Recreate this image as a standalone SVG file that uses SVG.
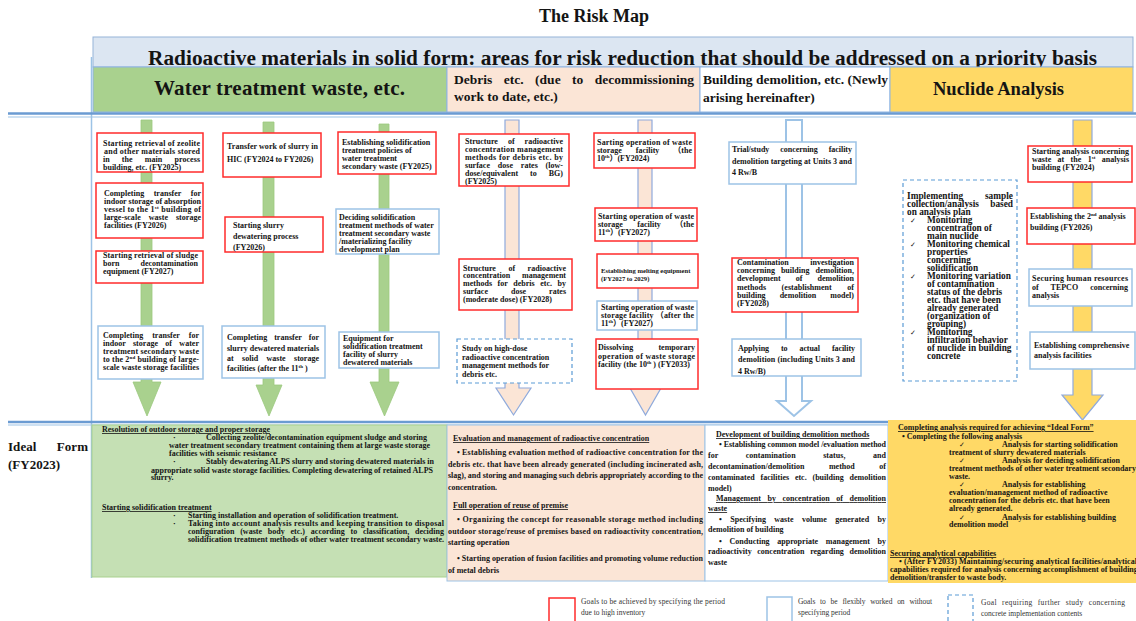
<svg xmlns="http://www.w3.org/2000/svg" width="1136" height="621" viewBox="0 0 1136 621">
<style>
text{font-family:"Liberation Serif","Times New Roman","Noto Sans CJK JP",serif;fill:#141414;font-weight:bold}
.t{font-size:8px}
.v{font-size:9.3px}
.s{font-size:5px}
.lg{font-size:7.5px;font-weight:normal;fill:#333}
.u{text-decoration:underline}
.r{fill:#fff;stroke:#ff2b2b;stroke-width:1.5}
.b{fill:#fff;stroke:#9dc3e6;stroke-width:1.5}
.d{fill:#fff;stroke:#5b9bd5;stroke-width:1.2;stroke-dasharray:4 3}
.ck{font-family:"DejaVu Sans",sans-serif;font-weight:normal;font-size:7px}
.ag{fill:#a9d18e;stroke:#9cc97f;stroke-width:0.8}
.ap{fill:#fbe5d6;stroke:#8faadc;stroke-width:1.2}
.aw{fill:#fff;stroke:#9dc3e6;stroke-width:2}
.ay{fill:#ffd966;stroke:#8faadc;stroke-width:1.2}
.sep{stroke:#6b9bd2;stroke-width:2.5}
.sep2{stroke:#9dc3e6;stroke-width:1}
</style>
<rect width="1136" height="621" fill="#fff"/>

<g id="title"><text x="594" y="22" text-anchor="middle" font-size="18">The Risk Map</text></g>

<g id="header">
<rect x="93" y="37" width="1040" height="30" fill="#dce6f2" stroke="#95b3d7"/>
<text x="148" y="65" font-size="21.3" textLength="949">Radioactive materials in solid form: areas for risk reduction that should be addressed on a priority basis</text>
</g>
<g id="col-water"><rect x="93" y="67" width="354" height="45" fill="#a9d18e" stroke="#8eb4e3"/><text x="154" y="95" font-size="21" textLength="251">Water treatment waste, etc.</text></g>
<g id="col-debris"><rect x="447" y="67" width="253" height="45" fill="#fbe5d6" stroke="#8eb4e3"/><text x="454" y="84" font-size="13.5" word-spacing="8" textLength="240">Debris etc. (due to decommissioning</text><text x="454" y="101" font-size="13.5">work to date, etc.)</text></g>
<g id="col-building"><rect x="700" y="67" width="190" height="45" fill="#fff" stroke="#8eb4e3"/><text x="703" y="84" font-size="13.5" textLength="185">Building demolition, etc. (Newly</text><text x="703" y="102" font-size="13.5">arising hereinafter)</text></g>
<g id="col-nuclide"><rect x="890" y="67" width="243" height="45" fill="#ffd966" stroke="#8eb4e3"/><text x="933" y="95" font-size="18.5">Nuclide Analysis</text></g>

<g id="frame">
<line x1="91.5" y1="57" x2="91.5" y2="578" stroke="#9dc3e6" stroke-width="1.5"/>
<line class="sep" x1="8" y1="113.5" x2="1136" y2="113.5"/>
<line class="sep2" x1="8" y1="117" x2="1136" y2="117"/>
<line class="sep" x1="8" y1="422" x2="1136" y2="422"/>
<line class="sep2" x1="8" y1="425" x2="1136" y2="425"/>
</g>

<g id="connectors">
<path class="ag" d="M141,120H152V382H161L147,416L133,382H141Z"/>
<path class="ag" d="M263,122H274V385H282L269,416L256,385H263Z"/>
<path class="ag" d="M379,124H389V382H399L384.5,416L370,382H379Z"/>
<path class="ap" d="M505,120H519V388H531L513.5,415L496,388H505Z"/>
<path class="ap" d="M638,120H652V388H661L645.5,415L630,388H638Z"/>
<path class="aw" d="M786,120H802V401H811L794,416L777,401H786Z"/>
<path class="ay" d="M1073,120H1092V395H1103L1082.5,420L1062,395H1073Z"/>
</g>

<g id="node-a"><rect class="r" x="97" y="133" width="106" height="39"/>
<text class="t" x="103" y="146" textLength="97">Starting retrieval of zeolite</text>
<text class="t" x="104" y="154" textLength="96">and other materials stored</text>
<text class="t" x="103" y="162" word-spacing="10" textLength="97">in the main process</text>
<text class="t" x="103" y="170">building, etc. (FY2025)</text></g>

<g id="node-b"><rect class="r" x="96" y="183" width="107" height="55"/>
<text class="t" x="104" y="196" word-spacing="7.5" textLength="97">Completing transfer for</text>
<text class="t" x="104" y="204" textLength="97">indoor storage of absorption</text>
<text class="t" x="104" y="212" textLength="97">vessel to the 1<tspan class="s" dy="-3">st</tspan><tspan dy="3"> building of</tspan></text>
<text class="t" x="104" y="220" word-spacing="6" textLength="97">large-scale waste storage</text>
<text class="t" x="104" y="228">facilities (FY2026)</text></g>

<g id="node-c"><rect class="r" x="96" y="251" width="107" height="32"/>
<text class="t" x="103" y="258" textLength="95">Starting retrieval of sludge</text>
<text class="t" x="103" y="266" word-spacing="19" textLength="95">born decontamination</text>
<text class="t" x="103" y="274">equipment (FY2027)</text></g>

<g id="node-d"><rect class="b" x="98" y="326" width="105" height="53"/>
<text class="t" x="103" y="338" word-spacing="7" textLength="96">Completing transfer for</text>
<text class="t" x="103" y="346" word-spacing="5.3" textLength="96">indoor storage of water</text>
<text class="t" x="103" y="354" textLength="96">treatment secondary waste</text>
<text class="t" x="103" y="362" textLength="96">to the 2<tspan class="s" dy="-3">nd</tspan><tspan dy="3"> building of large-</tspan></text>
<text class="t" x="103" y="370" textLength="96">scale waste storage facilities</text></g>

<g id="node-e"><rect class="r" x="223" y="133" width="98" height="44"/>
<text class="t" x="227" y="149" textLength="91">Transfer work of slurry in</text>
<text class="t" x="227" y="162">HIC (FY2024 to FY2026)</text></g>

<g id="node-f"><rect class="r" x="225" y="217" width="98" height="35"/>
<text class="t" x="233" y="228">Starting slurry</text>
<text class="t" x="233" y="239">dewatering process</text>
<text class="t" x="233" y="250">(FY2026)</text></g>

<g id="node-g"><rect class="b" x="222" y="326" width="103" height="52"/>
<text class="t" x="227" y="340" word-spacing="5" textLength="92">Completing transfer for</text>
<text class="t" x="227" y="350.5" textLength="92">slurry dewatered materials</text>
<text class="t" x="227" y="361" word-spacing="6.3" textLength="92">at solid waste storage</text>
<text class="t" x="227" y="371">facilities (after the 11<tspan class="s" dy="-3">th</tspan><tspan dy="3"> )</tspan></text></g>

<g id="node-h"><rect class="r" x="338" y="132" width="98" height="42"/>
<text class="t" x="342" y="145">Establishing solidification</text>
<text class="t" x="342" y="153">treatment policies of</text>
<text class="t" x="342" y="161">water treatment</text>
<text class="t" x="342" y="169">secondary waste (FY2025)</text></g>

<g id="node-i"><rect class="b" x="336" y="209" width="103" height="45"/>
<text class="t" x="339" y="219.5">Deciding solidification</text>
<text class="t" x="339" y="227.5">treatment methods of water</text>
<text class="t" x="339" y="235.5">treatment secondary waste</text>
<text class="t" x="339" y="243.5">/materializing facility</text>
<text class="t" x="339" y="251.5">development plan</text></g>

<g id="node-j"><rect class="b" x="339" y="332" width="100" height="36"/>
<text class="t" x="343" y="340.5">Equipment for</text>
<text class="t" x="343" y="348.5">solidification treatment</text>
<text class="t" x="343" y="356.5">facility of slurry</text>
<text class="t" x="343" y="364.5">dewatered materials</text></g>

<g id="node-k"><rect class="r" x="459" y="134" width="110" height="52"/>
<text class="t" x="465" y="144" word-spacing="8" textLength="98">Structure of radioactive</text>
<text class="t" x="465" y="152" textLength="98">concentration management</text>
<text class="t" x="465" y="160" textLength="98">methods for debris etc. by</text>
<text class="t" x="465" y="168" word-spacing="5.8" textLength="98">surface dose rates (low-</text>
<text class="t" x="465" y="176" word-spacing="10" textLength="98">dose/equivalent to BG)</text>
<text class="t" x="465" y="184">(FY2025)</text></g>

<g id="node-l"><rect class="r" x="459" y="259" width="113" height="51"/>
<text class="t" x="463" y="270.5" word-spacing="10.5" textLength="103">Structure of radioactive</text>
<text class="t" x="463" y="278.3" word-spacing="9.8" textLength="103">concentration management</text>
<text class="t" x="463" y="286" word-spacing="3.5" textLength="103">methods for debris etc. by</text>
<text class="t" x="463" y="293.8" word-spacing="21" textLength="103">surface dose rates</text>
<text class="t" x="463" y="301.5">(moderate dose) (FY2028)</text></g>

<g id="node-m"><rect class="d" x="457" y="339" width="115" height="44"/>
<text class="t" x="462" y="351">Study on high-dose</text>
<text class="t" x="462" y="359.5">radioactive concentration</text>
<text class="t" x="462" y="368">management methods for</text>
<text class="t" x="462" y="376.5">debris etc.</text></g>

<g id="node-n"><rect class="r" x="594" y="133" width="101" height="35"/>
<text class="t" x="597" y="144.5" textLength="95">Sarting operation of waste</text>
<text class="t" x="597" y="152.7" word-spacing="12" textLength="95">storage facility （the</text>
<text class="t" x="597" y="160.5">10<tspan class="s" dy="-3">th</tspan><tspan dy="3">）(FY2024)</tspan></text></g>

<g id="node-o"><rect class="r" x="595" y="208" width="102" height="33"/>
<text class="t" x="598" y="219" textLength="96">Starting operation of waste</text>
<text class="t" x="598" y="227" word-spacing="12.5" textLength="96">storage facility （the</text>
<text class="t" x="598" y="235">11<tspan class="s" dy="-3">th</tspan><tspan dy="3">）(FY2027)</tspan></text></g>

<g id="node-p"><rect class="r" x="597" y="254" width="101" height="34"/>
<text x="601" y="272.5" font-size="6.6">Establishing melting equipment</text>
<text x="601" y="280.8" font-size="6.6">(FY2027 to 2029)</text></g>

<g id="node-q"><rect class="b" x="597" y="301" width="100" height="29"/>
<text class="t" x="601" y="309.5" textLength="93">Starting operation of waste</text>
<text class="t" x="601" y="317.5" textLength="93">storage facility （after the</text>
<text class="t" x="601" y="325.5">11<tspan class="s" dy="-3">th</tspan><tspan dy="3">）(FY2027)</tspan></text></g>

<g id="node-r"><rect class="r" x="596" y="339" width="102" height="50"/>
<text class="t" x="598" y="350" word-spacing="23" textLength="97">Dissolving temporary</text>
<text class="t" x="598" y="358.5" textLength="97">operation of waste storage</text>
<text class="t" x="598" y="366.5">facility (the 10<tspan class="s" dy="-3">th</tspan><tspan dy="3"> ) (FY2033)</tspan></text></g>

<g id="node-s"><rect class="b" x="729" y="142" width="127" height="42"/>
<text class="t" x="732" y="152" word-spacing="9" textLength="120">Trial/study concerning facility</text>
<text class="t" x="732" y="163.5" textLength="120">demolition targeting at Units 3 and</text>
<text class="t" x="732" y="174.5">4 Rw/B</text></g>

<g id="node-t"><rect class="r" x="732" y="258" width="126" height="54"/>
<text class="t" x="737" y="265" word-spacing="19.5" textLength="117">Contamination investigation</text>
<text class="t" x="737" y="273.3" word-spacing="4" textLength="117">concerning building demolition,</text>
<text class="t" x="737" y="281.4" word-spacing="13" textLength="117">development of demolition</text>
<text class="t" x="737" y="289.6" word-spacing="13.5" textLength="117">methods (establishment of</text>
<text class="t" x="737" y="297.7" word-spacing="12" textLength="117">building demolition model)</text>
<text class="t" x="737" y="305.8">(FY2028)</text></g>

<g id="node-u"><rect class="b" x="732" y="339" width="129" height="37"/>
<text class="t" x="738" y="351" word-spacing="10" textLength="117">Applying to actual facility</text>
<text class="t" x="738" y="362" textLength="117">demolition (including Units 3 and</text>
<text class="t" x="738" y="373.5">4 Rw/B)</text></g>

<g id="node-v"><rect class="d" x="903" y="180" width="114" height="201"/>
<text class="v" x="907" y="199" word-spacing="19.5" textLength="106">Implementing sample</text>
<text class="v" x="907" y="207" word-spacing="9" textLength="106">collection/analysis based</text>
<text class="v" x="907" y="215">on analysis plan</text>
<text class="ck" x="910" y="223">✓</text><text class="v" x="927" y="223">Monitoring</text>
<text class="v" x="927" y="231">concentration of</text>
<text class="v" x="927" y="239">main nuclide</text>
<text class="ck" x="910" y="247">✓</text><text class="v" x="927" y="247">Monitoring chemical</text>
<text class="v" x="927" y="255">properties</text>
<text class="v" x="927" y="263">concerning</text>
<text class="v" x="927" y="271">solidification</text>
<text class="ck" x="910" y="279">✓</text><text class="v" x="927" y="279">Monitoring variation</text>
<text class="v" x="927" y="287">of contamination</text>
<text class="v" x="927" y="295">status of the debris</text>
<text class="v" x="927" y="303">etc. that have been</text>
<text class="v" x="927" y="311">already generated</text>
<text class="v" x="927" y="319">(organization of</text>
<text class="v" x="927" y="327">grouping)</text>
<text class="ck" x="910" y="335">✓</text><text class="v" x="927" y="335">Monitoring</text>
<text class="v" x="927" y="343">infiltration behavior</text>
<text class="v" x="927" y="351">of nuclide in building</text>
<text class="v" x="927" y="359">concrete</text></g>

<g id="node-w"><rect class="r" x="1028" y="146" width="104" height="36"/>
<text class="t" x="1032" y="153.5" textLength="97">Starting analysis concerning</text>
<text class="t" x="1032" y="161.5" word-spacing="4.3" textLength="97">waste at the 1<tspan class="s" dy="-3">st</tspan><tspan dy="3"> analysis</tspan></text>
<text class="t" x="1032" y="169.5">building (FY2024)</text></g>

<g id="node-x"><rect class="r" x="1027" y="208" width="108" height="36"/>
<text class="t" x="1030" y="219">Establishing the 2<tspan class="s" dy="-3">nd</tspan><tspan dy="3"> analysis</tspan></text>
<text class="t" x="1030" y="229.5">building (FY2026)</text></g>

<g id="node-y"><rect class="b" x="1029" y="269" width="103" height="37"/>
<text class="t" x="1032" y="281" textLength="96">Securing human resources</text>
<text class="t" x="1032" y="289.5" word-spacing="10" textLength="96">of TEPCO concerning</text>
<text class="t" x="1032" y="298">analysis</text></g>

<g id="node-z"><rect class="b" x="1030" y="332" width="105" height="37"/>
<text class="t" x="1034" y="348">Establishing comprehensive</text>
<text class="t" x="1034" y="358">analysis facilities</text></g>

<g id="ideal-label">
<text x="8" y="451" font-size="13" word-spacing="17" textLength="80">Ideal Form</text>
<text x="8" y="468.5" font-size="13">(FY2023)</text>
</g>

<g id="ideal-water">
<rect x="92" y="425" width="355" height="152" fill="#c5e0b4" stroke="#a9d18e" stroke-width="1"/>
<text class="t u" x="102" y="432">Resolution of outdoor storage and proper storage</text>
<text class="t" x="173" y="439.5">·</text><text class="t" x="206" y="439.5" textLength="221">Collecting zeolite/decontamination equipment sludge and storing</text>
<text class="t" x="169" y="447.5" textLength="261">water treatment secondary treatment containing them at large waste storage</text>
<text class="t" x="169" y="456">facilities with seismic resistance</text>
<text class="t" x="173" y="464">·</text><text class="t" x="206" y="464" textLength="228">Stably dewatering ALPS slurry and storing dewatered materials in</text>
<text class="t" x="151" y="472.5" textLength="282">appropriate solid waste storage facilities. Completing dewatering of retained ALPS</text>
<text class="t" x="151" y="480">slurry.</text>
<text class="t u" x="102" y="510">Starting solidification treatment</text>
<text class="t" x="173" y="518">·</text><text class="t" x="188" y="518">Starting installation and operation of solidification treatment.</text>
<text class="t" x="173" y="526">·</text><text class="t" x="188" y="526" textLength="256">Taking into account analysis results and keeping transition to disposal</text>
<text class="t" x="188" y="533.5" word-spacing="3.8" textLength="256">configuration (waste body etc.) according to classification, deciding</text>
<text class="t" x="188" y="541.5" textLength="256">solidification treatment methods of other water treatment secondary waste.</text>
</g>

<g id="ideal-debris">
<rect x="447" y="425" width="258" height="156" fill="#fbe5d6" stroke="#9dc3e6" stroke-width="1"/>
<text class="t u" x="453" y="441">Evaluation and management of radioactive concentration</text>
<text class="t" x="457" y="455" textLength="246">• Establishing evaluation method of radioactive concentration for the</text>
<text class="t" x="448" y="466.5" textLength="255">debris etc. that have been already generated (including incinerated ash,</text>
<text class="t" x="448" y="478" textLength="255">slag), and storing and managing such debris appropriately according to the</text>
<text class="t" x="448" y="490">concentration.</text>
<text class="t u" x="453" y="508">Full operation of reuse of premise</text>
<text class="t" x="457" y="522" textLength="246">• Organizing the concept for reasonable storage method including</text>
<text class="t" x="448" y="533.5" textLength="255">outdoor storage/reuse of premises based on radioactivity concentration,</text>
<text class="t" x="448" y="545">starting operation</text>
<text class="t" x="457" y="560.5" textLength="246">• Starting operation of fusion facilities and promoting volume reduction</text>
<text class="t" x="448" y="573">of metal debris</text>
</g>

<g id="ideal-building">
<rect x="705" y="425" width="183" height="156" fill="#fff" stroke="#9dc3e6" stroke-width="1"/>
<text class="t u" x="716" y="437">Development of building demolition methods</text>
<text class="t" x="719" y="447" textLength="167">• Establishing common model /evaluation method</text>
<text class="t" x="708" y="458" word-spacing="25.5" textLength="178">for contamination status, and</text>
<text class="t" x="708" y="469" word-spacing="22.5" textLength="178">decontamination/demolition method of</text>
<text class="t" x="708" y="480" word-spacing="3.8" textLength="178">contaminated facilities etc. (building demolition</text>
<text class="t" x="708" y="491">model)</text>
<text class="t u" x="716" y="501" word-spacing="4.5" textLength="170">Management by concentration of demolition</text>
<text class="t u" x="708" y="511">waste</text>
<text class="t" x="719" y="522" word-spacing="6.4" textLength="167">• Specifying waste volume generated by</text>
<text class="t" x="708" y="532">demolition of building</text>
<text class="t" x="719" y="544" word-spacing="5.6" textLength="167">• Conducting appropriate management by</text>
<text class="t" x="708" y="554" word-spacing="3.6" textLength="178">radioactivity concentration regarding demolition</text>
<text class="t" x="708" y="565">waste</text>
</g>

<g id="ideal-nuclide">
<rect x="888" y="420" width="250" height="163" fill="#ffd966"/>
<text class="t u" x="898" y="430">Completing analysis required for achieving “Ideal Form”</text>
<text class="t" x="902" y="439">• Completing the following analysis</text>
<text class="ck" x="959" y="447">✓</text><text class="t" x="1002" y="447">Analysis for starting solidification</text>
<text class="t" x="949" y="455">treatment of slurry dewatered materials</text>
<text class="ck" x="959" y="463">✓</text><text class="t" x="1002" y="463">Analysis for deciding solidification</text>
<text class="t" x="949" y="471">treatment methods of other water treatment secondary</text>
<text class="t" x="949" y="479">waste.</text>
<text class="ck" x="959" y="487">✓</text><text class="t" x="1002" y="487">Analysis for establishing</text>
<text class="t" x="949" y="495">evaluation/management method of radioactive</text>
<text class="t" x="949" y="503">concentration for the debris etc. that have been</text>
<text class="t" x="949" y="511">already generated.</text>
<text class="ck" x="959" y="519.5">✓</text><text class="t" x="1002" y="519.5">Analysis for establishing building</text>
<text class="t" x="949" y="527">demolition model</text>
<text class="t u" x="890" y="556">Securing analytical capabilities</text>
<text class="t" x="899" y="564" textLength="238">• (After FY2033) Maintaining/securing analytical facilities/analytical</text>
<text class="t" x="890" y="572">capabilities required for analysis concerning accomplishment of building</text>
<text class="t" x="890" y="580">demolition/transfer to waste body.</text>
</g>

<g id="legend">
<rect class="r" x="549" y="598" width="26" height="30"/>
<text class="lg" x="581" y="604" textLength="144">Goals to be achieved by specifying the period</text>
<text class="lg" x="581" y="615">due to high inventory</text>
<rect class="b" x="767" y="597" width="25" height="30"/>
<text class="lg" x="798" y="604" word-spacing="3" textLength="134">Goals to be flexibly worked on without</text>
<text class="lg" x="798" y="615">specifying period</text>
<rect class="d" x="948" y="595" width="25" height="30"/>
<text class="lg" x="981" y="605" word-spacing="3" textLength="144">Goal requiring further study concerning</text>
<text class="lg" x="981" y="616">concrete implementation contents</text>
</g>
</svg>
